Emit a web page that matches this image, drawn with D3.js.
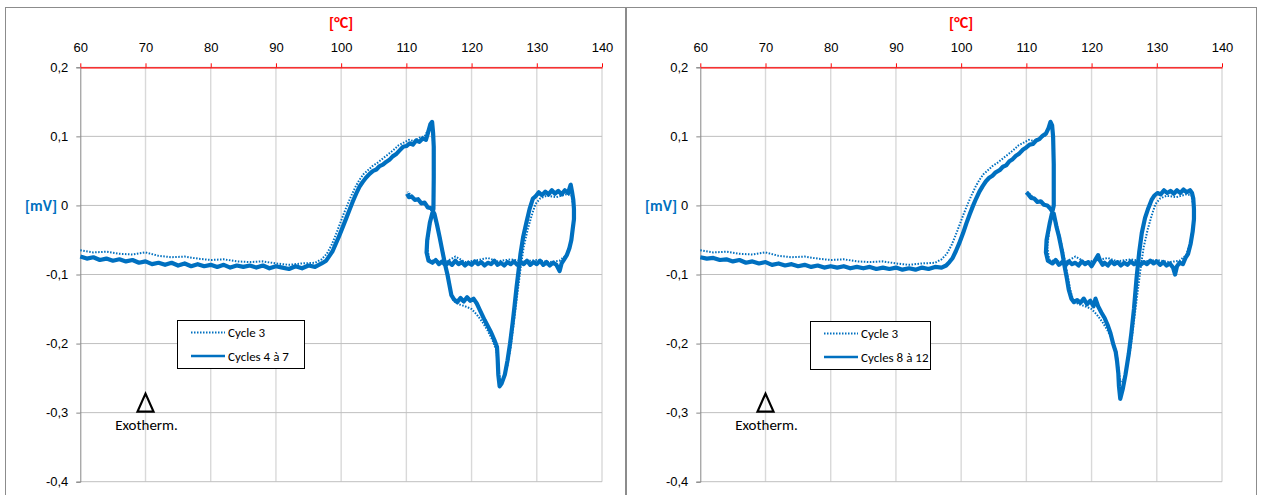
<!DOCTYPE html>
<html><head><meta charset="utf-8">
<script src="https://cdn.jsdelivr.net/npm/d3@7"></script>
<style>
html,body{margin:0;padding:0;background:#fff;}
svg{display:block;font-family:Carlito,Calibri,Lato,sans-serif;}
</style></head>
<body><svg id="c" width="1261" height="495"></svg>
<script>
// ---- data ----
const xTicks = [60,70,80,90,100,110,120,130,140];
const yTicks = [0.2,0.1,0,-0.1,-0.2,-0.3,-0.4];
const xTitle = "[°C]";
const yTitle = "[mV]";
const legendLeft = ["Cycle 3","Cycles 4 à 7"];
const legendRight = ["Cycle 3","Cycles 8 à 12"];
const exoLabel = "Exotherm.";
const exoAt = [70,-0.3];

// Cycle 3 (shown dotted in both panels): [°C, mV]
const cycle3 = [[60,-0.065],[62,-0.068],[64,-0.067],[66,-0.070],[68,-0.071],[70,-0.068],[72,-0.073],[74,-0.075],[76,-0.074],[78,-0.077],[80,-0.079],[82,-0.078],[84,-0.081],[86,-0.082],[88,-0.081],[90,-0.084],[92,-0.086],[94,-0.084],[96,-0.083],[97,-0.078],[97.8,-0.070],[98.5,-0.058],[99.2,-0.042],[99.8,-0.027],[100.4,-0.012],[101,0.002],[101.6,0.015],[102.2,0.027],[102.8,0.037],[103.4,0.045],[104,0.050],[104.8,0.057],[105.6,0.062],[106.4,0.068],[107.2,0.074],[108,0.080],[108.8,0.087],[109.6,0.091],[110.4,0.095],[111.2,0.093],[112,0.098],[112.8,0.100],[113.5,0.112],[113.9,0.118],[114.1,0.09],[114.15,0.0],[113.6,-0.03],[113.2,-0.06],[113.5,-0.078],[114,-0.080],[116,-0.082],[117.5,-0.074],[119,-0.082],[121,-0.079],[122.5,-0.076],[124,-0.081],[126,-0.078],[128,-0.081],[130,-0.079],[132,-0.082],[133.5,-0.080],[134.5,-0.072],[135.2,-0.052],[135.6,-0.025],[135.6,0.0],[135.3,0.015],[134.5,0.016],[133,0.012],[131.5,0.014],[130.5,0.010],[129.8,0.002],[129.2,-0.015],[128.6,-0.035],[128.0,-0.06],[127.6,-0.085],[127.2,-0.115],[126.8,-0.145],[126.4,-0.175],[126.0,-0.205],[125.5,-0.232],[124.9,-0.252],[124.4,-0.255],[124.1,-0.235],[123.8,-0.210],[123.2,-0.195],[122.4,-0.180],[121.6,-0.168],[120.8,-0.158],[120,-0.150],[119,-0.146],[118,-0.143],[117.2,-0.138],[116.8,-0.125],[116.3,-0.100],[115.8,-0.075],[115.2,-0.048],[114.6,-0.025],[114,-0.008],[113,0.000],[112,0.006],[111,0.012],[110.2,0.020]];

// Cycles 4 to 7 (left panel, solid)
const cycles4to7 = [[60,-0.074],[61,-0.077],[62,-0.075],[63,-0.079],[64,-0.077],[65,-0.080],[66,-0.078],[67,-0.081],[68,-0.079],[69,-0.083],[70,-0.081],[71,-0.085],[72,-0.083],[73,-0.086],[74,-0.083],[75,-0.087],[76,-0.084],[77,-0.088],[78,-0.085],[79,-0.088],[80,-0.086],[81,-0.089],[82,-0.086],[83,-0.090],[84,-0.087],[85,-0.089],[86,-0.087],[87,-0.090],[88,-0.087],[89,-0.091],[90,-0.088],[91,-0.090],[92,-0.092],[93,-0.088],[94,-0.091],[95,-0.087],[96,-0.089],[97,-0.084],
[97.7,-0.080],[98.2,-0.073],[98.7,-0.066],[99.2,-0.055],[99.7,-0.044],[100.3,-0.030],[100.8,-0.018],[101.3,-0.006],[101.8,0.006],[102.3,0.017],[102.8,0.027],[103.3,0.034],[103.8,0.040],[104.4,0.046],[104.9,0.050],[105.4,0.052],[105.9,0.057],[106.4,0.059],[106.9,0.063],[107.4,0.066],[107.9,0.071],[108.4,0.074],[108.9,0.079],[109.5,0.085],[110,0.086],[110.5,0.090],[111,0.088],[111.5,0.094],[112,0.092],[112.5,0.097],[113,0.095],[113.4,0.108],[113.7,0.118],[113.95,0.121],[114.1,0.105],[114.2,0.085],
[114.2,0.04],[114.15,-0.005],[113.6,-0.025],[113.2,-0.05],[113.1,-0.068],[113.4,-0.080],
[114,-0.083],[114.5,-0.079],[115,-0.085],[115.5,-0.081],[116,-0.087],[116.5,-0.082],[117,-0.086],[117.5,-0.080],[118,-0.085],[118.5,-0.082],[119,-0.087],[119.5,-0.083],[120,-0.086],[120.5,-0.081],[121,-0.085],[121.5,-0.082],[122,-0.087],[122.5,-0.083],[123,-0.085],[123.5,-0.080],[124,-0.086],[124.5,-0.083],[125,-0.087],[125.5,-0.082],[126,-0.085],[126.5,-0.081],[127,-0.086],[127.5,-0.082],[128,-0.085],[128.5,-0.080],[129,-0.086],[129.5,-0.082],[130,-0.085],[130.5,-0.080],[131,-0.086],[131.5,-0.082],[132,-0.087],[132.5,-0.083],[133,-0.086],[133.5,-0.095],[133.8,-0.084],[134.2,-0.078],[134.6,-0.072],[135,-0.062],[135.3,-0.050],[135.5,-0.035],[135.7,-0.020],[135.7,-0.005],[135.6,0.008],[135.4,0.020],[135.2,0.030],
[134.8,0.018],[134.3,0.022],[133.8,0.016],[133.3,0.021],[132.8,0.017],[132.3,0.022],[131.8,0.016],[131.3,0.020],[130.8,0.015],[130.3,0.019],[129.8,0.013],[129.4,0.010],
[128.9,-0.005],[128.4,-0.025],[127.9,-0.046],[127.5,-0.070],[127.2,-0.095],[126.9,-0.118],[126.6,-0.145],[126.3,-0.170],[125.9,-0.200],[125.5,-0.225],[125.1,-0.245],[124.6,-0.258],[124.3,-0.262],
[124.1,-0.245],[124.0,-0.222],[123.9,-0.205],[123.5,-0.195],[123.0,-0.184],[122.5,-0.175],[122.0,-0.166],[121.6,-0.158],[121.2,-0.150],[120.8,-0.142],[120.3,-0.135],[119.8,-0.138],[119.3,-0.133],[118.8,-0.139],[118.3,-0.134],[117.8,-0.140],[117.3,-0.136],[116.9,-0.130],[116.6,-0.115],[116.3,-0.100],[115.9,-0.084],[115.5,-0.065],[115.1,-0.046],[114.7,-0.028],[114.3,-0.012],[113.8,-0.004],[113.3,-0.003],[112.8,0.004],[112.3,0.003],[111.8,0.009],[111.3,0.008],[110.8,0.013],[110.4,0.012],[110.1,0.017]];

// Cycles 8 to 12 (right panel, solid)
const cycles8to12 = [[60,-0.075],[61,-0.077],[62,-0.076],[63,-0.079],[64,-0.078],[65,-0.081],[66,-0.079],[67,-0.083],[68,-0.081],[69,-0.084],[70,-0.082],[71,-0.086],[72,-0.084],[73,-0.087],[74,-0.085],[75,-0.088],[76,-0.086],[77,-0.089],[78,-0.087],[79,-0.090],[80,-0.088],[81,-0.090],[82,-0.088],[83,-0.091],[84,-0.089],[85,-0.091],[86,-0.089],[87,-0.092],[88,-0.090],[89,-0.092],[90,-0.090],[91,-0.093],[92,-0.091],[93,-0.093],[94,-0.090],[95,-0.092],[96,-0.089],[97,-0.090],
[97.7,-0.087],[98.2,-0.082],[98.7,-0.076],[99.2,-0.066],[99.7,-0.055],[100.3,-0.040],[100.8,-0.026],[101.3,-0.013],[101.8,-0.001],[102.3,0.010],[102.8,0.020],[103.3,0.028],[103.8,0.035],[104.3,0.040],[104.8,0.043],[105.3,0.048],[105.9,0.051],[106.4,0.056],[106.9,0.058],[107.4,0.064],[107.9,0.067],[108.4,0.072],[108.9,0.075],[109.5,0.081],[110,0.084],[110.5,0.088],[111,0.089],[111.5,0.094],[112,0.096],[112.5,0.101],[113,0.104],[113.4,0.112],[113.7,0.121],[113.95,0.116],[114.1,0.100],[114.2,0.06],[114.2,0.0],
[113.6,-0.025],[113.1,-0.05],[113.0,-0.068],[113.3,-0.080],
[114,-0.084],[114.5,-0.079],[115,-0.086],[115.5,-0.082],[116,-0.087],[116.5,-0.081],[117,-0.085],[117.5,-0.083],[118,-0.087],[118.5,-0.081],[119,-0.085],[119.5,-0.082],[120,-0.088],[120.5,-0.080],[121,-0.072],[121.3,-0.080],[121.7,-0.086],[122,-0.083],[122.5,-0.087],[123,-0.081],[123.5,-0.085],[124,-0.082],[124.5,-0.087],[125,-0.083],[125.5,-0.086],[126,-0.081],[126.5,-0.085],[127,-0.082],[127.5,-0.086],[128,-0.082],[128.5,-0.085],[129,-0.080],[129.5,-0.084],[130,-0.081],[130.5,-0.086],[131,-0.082],[131.5,-0.087],[132,-0.084],[132.5,-0.090],[132.8,-0.100],[133.1,-0.088],[133.5,-0.083],[134,-0.085],[134.4,-0.076],[134.8,-0.070],[135.2,-0.055],[135.5,-0.038],[135.7,-0.020],[135.7,-0.005],[135.6,0.010],[135.4,0.018],[135.1,0.022],
[134.6,0.019],[134.1,0.023],[133.6,0.018],[133.1,0.022],[132.6,0.017],[132.1,0.021],[131.6,0.018],[131.1,0.022],[130.6,0.016],[130.1,0.018],[129.6,0.014],[129.2,0.008],
[128.7,-0.004],[128.2,-0.018],[127.7,-0.040],[127.3,-0.068],[126.9,-0.105],[126.5,-0.150],[126.1,-0.185],[125.7,-0.215],[125.2,-0.245],[124.8,-0.265],[124.4,-0.280],
[124.2,-0.262],[124.1,-0.243],[123.9,-0.225],[123.7,-0.212],[123.3,-0.200],[122.9,-0.185],[122.5,-0.174],[122.0,-0.163],[121.5,-0.155],[121.0,-0.146],[120.6,-0.135],[120.3,-0.146],[119.8,-0.138],[119.3,-0.143],[118.8,-0.135],[118.3,-0.141],[117.8,-0.137],[117.3,-0.140],[116.9,-0.135],[116.5,-0.122],[116.2,-0.105],[115.9,-0.090],[115.5,-0.068],[115.0,-0.045],[114.6,-0.030],[114.2,-0.012],[113.7,-0.005],[113.2,0.000],[112.7,0.001],[112.2,0.006],[111.7,0.005],[111.2,0.010],[110.7,0.011],[110.3,0.016],[110,0.019]];

// ---- drawing ----
const svg = d3.select("#c");
const BLUE = "#0070C0";
const fmt = v => (Math.round(v*10)/10).toString().replace(".", ",");

// panel borders
svg.append("rect").attr("x",5.5).attr("y",7.5).attr("width",620).attr("height",500)
  .attr("fill","none").attr("stroke","#8c8c8c");
svg.append("rect").attr("x",626.5).attr("y",7.5).attr("width",630).attr("height",500)
  .attr("fill","none").attr("stroke","#8c8c8c");

function panel(ox, solid, legendLabels, legBox) {
  const x = d3.scaleLinear().domain([60,140]).range([ox+80.3, ox+602]);
  const y = d3.scaleLinear().domain([-0.4,0.2]).range([481.7, 67.3]);
  const g = svg.append("g");

  // vertical grid
  g.selectAll(".vg").data(xTicks.slice(1)).enter().append("line")
    .attr("x1",d=>x(d)).attr("x2",d=>x(d)).attr("y1",y(0.2)).attr("y2",y(-0.4))
    .attr("stroke","#d9d9d9").attr("stroke-width",1.4);
  // horizontal grid
  g.selectAll(".hg").data(yTicks).enter().append("line")
    .attr("x1",x(60)).attr("x2",x(140)).attr("y1",d=>y(d)).attr("y2",d=>y(d))
    .attr("stroke","#bfbfbf").attr("stroke-width",1);

  // y axis
  const ya = g.append("g").attr("transform",`translate(${x(60)},0)`)
    .call(d3.axisLeft(y).tickValues(yTicks).tickSize(4).tickPadding(8).tickFormat(fmt));
  ya.select(".domain").attr("stroke","#868686");
  ya.selectAll(".tick line").attr("stroke","#868686");
  ya.selectAll("text").attr("font-size",13).attr("fill","#000");

  // top x axis (red)
  const xa = g.append("g").attr("transform",`translate(0,${y(0.2)})`)
    .call(d3.axisTop(x).tickValues(xTicks).tickSize(4).tickPadding(11).tickSizeOuter(0));
  xa.select(".domain").attr("stroke","#ff0000").attr("stroke-width",1.3);
  xa.selectAll(".tick line").attr("stroke","#ff0000");
  xa.selectAll("text").attr("font-size",13).attr("fill","#000");

  // titles
  g.append("text").attr("x",x(100)).attr("y",28).attr("text-anchor","middle")
    .attr("font-size",16).attr("font-weight","bold").attr("fill","#ff0000").text(xTitle);
  g.append("text").attr("x",ox+41).attr("y",y(0)+6).attr("text-anchor","middle")
    .attr("font-size",15.5).attr("font-weight","bold").attr("fill",BLUE).text(yTitle);

  const line = d3.line().x(d=>x(d[0])).y(d=>y(d[1]));
  g.append("path").datum(solid).attr("d",line).attr("fill","none")
    .attr("stroke",BLUE).attr("stroke-width",4.2).attr("stroke-linejoin","round");
  g.append("path").datum(cycle3).attr("d",line).attr("fill","none")
    .attr("stroke",BLUE).attr("stroke-width",2).attr("stroke-dasharray","1.5,1.5");

  // exotherm marker
  const ex = x(exoAt[0]), ey = y(exoAt[1]);
  g.append("path").attr("d",`M${ex},${ey-19}L${ex-8},${ey-1}L${ex+8},${ey-1}Z`)
    .attr("fill","none").attr("stroke","#000").attr("stroke-width",2.2);
  g.append("text").attr("x",ex+1).attr("y",ey+17).attr("text-anchor","middle")
    .attr("font-size",15).attr("fill","#000").text(exoLabel);

  // legend
  const L = legBox;
  g.append("rect").attr("x",L.x+0.5).attr("y",L.y+0.5).attr("width",L.w).attr("height",L.h)
    .attr("fill","#fff").attr("stroke","#000");
  const rows = [L.y+12.5, L.y+36];
  g.append("line").attr("x1",L.x+14).attr("x2",L.x+48).attr("y1",rows[0]).attr("y2",rows[0])
    .attr("stroke",BLUE).attr("stroke-width",2).attr("stroke-dasharray","1.5,1.5");
  g.append("line").attr("x1",L.x+14).attr("x2",L.x+48).attr("y1",rows[1]).attr("y2",rows[1])
    .attr("stroke",BLUE).attr("stroke-width",2.5);
  legendLabels.forEach((t,i)=>{
    g.append("text").attr("x",L.x+51).attr("y",rows[i]+4.5).attr("font-size",13)
      .attr("fill","#000").text(t);
  });
}

panel(0, cycles4to7, legendLeft, {x:177,y:320,w:127,h:48});
panel(620, cycles8to12, legendRight, {x:810,y:321,w:120,h:48});
</script></body></html>
